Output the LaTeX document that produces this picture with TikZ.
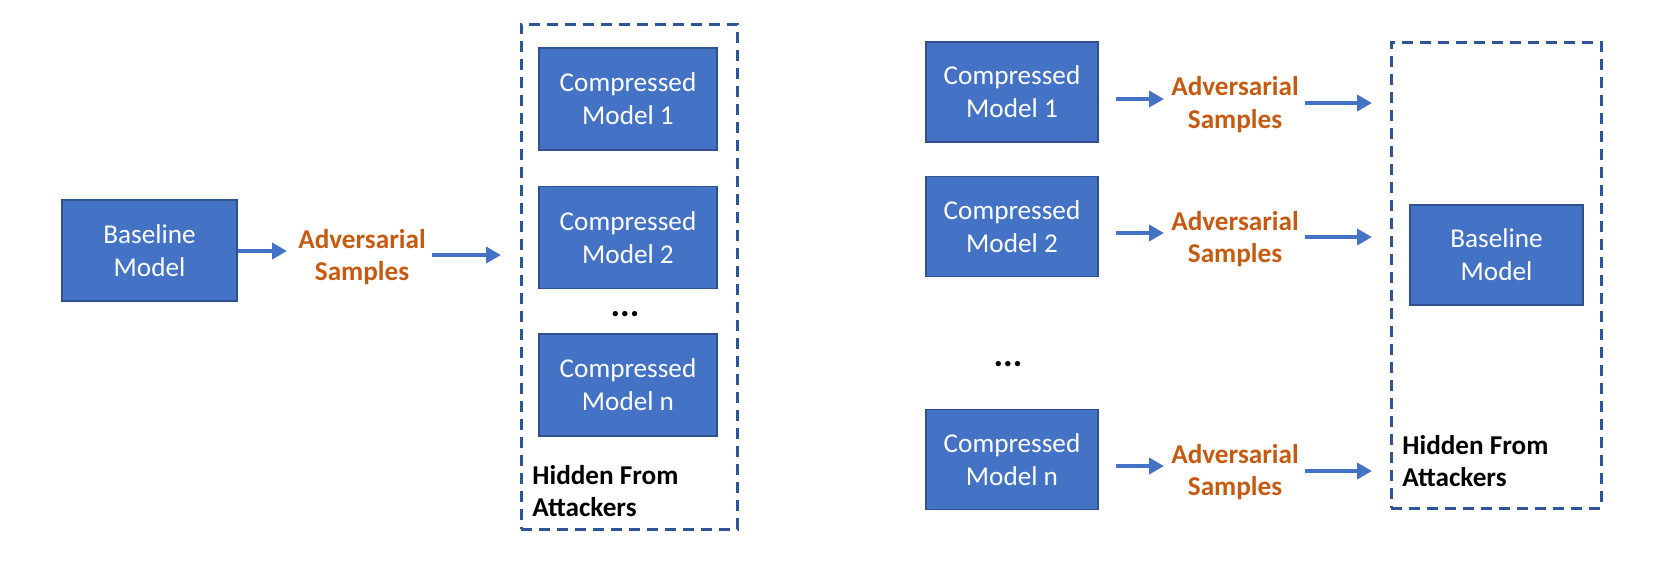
\documentclass[tikz,border=0pt]{standalone}
\usepackage{fontspec}
\setmainfont{Carlito}
\usetikzlibrary{arrows.meta}
\definecolor{boxblue}{HTML}{4472C4}
\definecolor{boxedge}{HTML}{2F528F}
\definecolor{dashblue}{HTML}{2F5597}
\definecolor{advorange}{HTML}{C55A11}
\tikzset{
  model/.style={draw=boxedge, line width=0.6pt, fill=boxblue, text=white, inner sep=0pt,
    align=center, font=\fontsize{13.6pt}{16.4pt}\selectfont},
  advtext/.style={text=advorange, align=center, inner sep=0pt,
    font=\fontsize{13.6pt}{16.4pt}\selectfont\bfseries},
  hidetext/.style={text=black, align=left, inner sep=0pt, anchor=west,
    font=\fontsize{13.6pt}{16.4pt}\selectfont\bfseries},
  hidebox/.style={draw=dashblue, line width=1.5pt, dash pattern=on 5.5pt off 3.5pt, inner sep=0pt},
  flow/.style={draw=boxblue, line width=2.3pt, -{Triangle[length=7.5pt,width=8pt]}},
  dotsnode/.style={inner sep=0pt, font=\fontsize{18pt}{18pt}\selectfont\bfseries}
}
\begin{document}
\begin{tikzpicture}[x=0.5pt, y=-0.5pt]
\useasboundingbox (0,0) rectangle (1660,570);
% ---------- left diagram ----------
\node[model, minimum width=87.5pt, minimum height=50.5pt] (BL) at (149.5,250.5) {Baseline\\Model};
\node[advtext] (advL) at (362,257) {Adversarial\\Samples};
\node[hidebox, minimum width=108pt, minimum height=252.5pt] (hideL) at (629,276.5) {};
\node[model, minimum width=89pt, minimum height=51pt] (CL1) at (628,99) {Compressed\\Model 1};
\node[model, minimum width=89pt, minimum height=51pt] (CL2) at (628,237.5) {Compressed\\Model 2};
\node[model, minimum width=89pt, minimum height=51pt] (CLn) at (628,385) {Compressed\\Model n};
\node[dotsnode, anchor=base] (dotsL) at (625,316) {...};
\node[hidetext] (hideLt) at (532,491) {Hidden From\\Attackers};
\coordinate (a1e) at (287,251);
\coordinate (a2s) at (432,255);
\coordinate (a2e) at (501,255);
\draw[flow] (BL.east |- a1e) -- (a1e);
\draw[flow] (a2s) -- (a2e);
% ---------- right diagram ----------
\node[model, minimum width=86pt, minimum height=50pt] (CR1) at (1012,92) {Compressed\\Model 1};
\node[model, minimum width=86pt, minimum height=50pt] (CR2) at (1012,226.5) {Compressed\\Model 2};
\node[model, minimum width=86pt, minimum height=50pt] (CRn) at (1012,459.5) {Compressed\\Model n};
\node[dotsnode, anchor=base] (dotsR) at (1008,366) {...};
\node[advtext] (advR1) at (1235,104.5) {Adversarial\\Samples};
\node[advtext] (advR2) at (1235,239) {Adversarial\\Samples};
\node[advtext] (advRn) at (1235,472) {Adversarial\\Samples};
\node[hidebox, minimum width=105pt, minimum height=233pt] (hideR) at (1496,275) {};
\node[model, minimum width=86.5pt, minimum height=50pt] (BR) at (1496.5,255) {Baseline\\Model};
\node[hidetext] (hideRt) at (1402,461) {Hidden From\\Attackers};
\coordinate (r1s) at (1116,99);  \coordinate (r1e) at (1164,99);
\coordinate (r2s) at (1116,233); \coordinate (r2e) at (1164,233);
\coordinate (rns) at (1116,466); \coordinate (rne) at (1164,466);
\coordinate (s1s) at (1305,103); \coordinate (s1e) at (1372,103);
\coordinate (s2s) at (1305,237); \coordinate (s2e) at (1372,237);
\coordinate (sns) at (1305,471); \coordinate (sne) at (1372,471);
\draw[flow] (r1s) -- (r1e);
\draw[flow] (r2s) -- (r2e);
\draw[flow] (rns) -- (rne);
\draw[flow] (s1s) -- (s1e);
\draw[flow] (s2s) -- (s2e);
\draw[flow] (sns) -- (sne);
\end{tikzpicture}
\end{document}
